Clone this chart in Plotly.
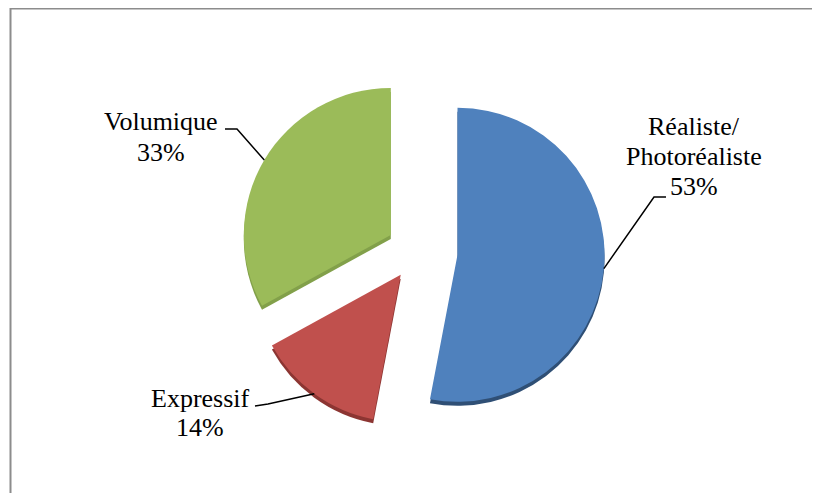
import math
import plotly.graph_objects as go

# ---- data ----
labels = ["Réaliste/<br>Photoréaliste", "Expressif", "Volumique"]
values = [53, 14, 33]
colors = ["#4F81BD", "#C0504D", "#9BBB59"]
dark_colors = ["#2F4F75", "#8C3532", "#82A04A"]
pulls = [0.27, 0.20, 0.215]

# page has an 8px body margin; figure sized to fit the window
OFF = 8
W, H = 820 - OFF, 493 - OFF
CX, CY = 418, 251          # pie centre (page px)
R = 147                    # pie radius (px)
half = R * (1 + max(pulls))
fcx, fcy = CX - OFF, CY - OFF
dom_x = [(fcx - half) / W, (fcx + half) / W]
dom_y = [1 - (fcy + half) / H, 1 - (fcy - half) / H]
depth = 4 / H

def px(x, y):
    return (x - OFF) / W, 1 - (y - OFF) / H

fig = go.Figure()
# 3D side (darker copy slightly lower)
fig.add_trace(go.Pie(
    labels=labels, values=values, pull=pulls, sort=False, direction="clockwise",
    rotation=0, marker=dict(colors=dark_colors, line=dict(width=0)),
    textinfo="none", hoverinfo="skip", showlegend=False,
    domain=dict(x=dom_x, y=[dom_y[0] - depth, dom_y[1] - depth]),
))
fig.add_trace(go.Pie(
    labels=labels, values=values, pull=pulls, sort=False, direction="clockwise",
    rotation=0, marker=dict(colors=colors, line=dict(width=0)),
    textinfo="none", showlegend=False,
    domain=dict(x=dom_x, y=dom_y),
))

# anchor points at each slice's mid angle
total = sum(values)
anchors = []
cum = 0
for v, p in zip(values, pulls):
    mid = (cum + v / 2) / total * 2 * math.pi
    cum += v
    ax = CX + (1 + p) * R * math.sin(mid)
    ay = CY - (1 + p) * R * math.cos(mid)
    anchors.append((ax, ay))

# label placement (page px): centre x and baselines of each line
label_x = [694, 200, 161]
label_base = [[135, 165, 195], [407, 436], [130, 161]]
elbows = [[(654, 197), (666, 197)], [(268, 404), (255, 406)], [(237, 129), (225, 129)]]

shapes = []
for (ax, ay), el in zip(anchors, elbows):
    pts = [(ax, ay)] + el
    path = "M " + " L ".join(f"{px(x, y)[0]:.5f},{px(x, y)[1]:.5f}" for x, y in pts)
    shapes.append(dict(type="path", xref="paper", yref="paper", path=path,
                       line=dict(color="black", width=1.5)))

# outer border
shapes.append(dict(type="rect", xref="paper", yref="paper",
                   x0=px(10.5, 0)[0], x1=1.05, y0=-0.05, y1=px(0, 8.5)[1],
                   line=dict(color="#8C8C8C", width=2)))

FS = 26
annotations = []
for lab, v, lx, bases in zip(labels, values, label_x, label_base):
    lines = lab.split("<br>") + [f"{round(v / total * 100)}%"]
    for line, b in zip(lines, bases):
        x, y = px(lx, b - 9)
        annotations.append(dict(
            x=x, y=y, xref="paper", yref="paper", xanchor="center", yanchor="middle",
            text=line, showarrow=False, align="center",
            font=dict(family="Liberation Serif, Times New Roman, serif", size=FS, color="black"),
        ))

fig.update_layout(
    width=W, height=H, margin=dict(l=0, r=0, t=0, b=0),
    paper_bgcolor="white", plot_bgcolor="white",
    shapes=shapes, annotations=annotations,
)
fig.write_html("out.html")
